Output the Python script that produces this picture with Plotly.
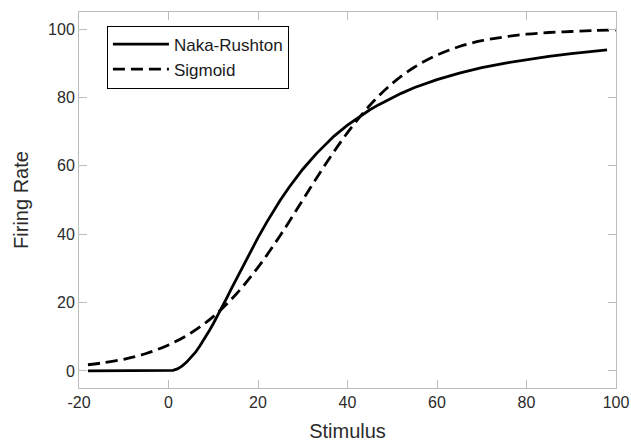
import plotly.graph_objects as go

# Values
x_nr = [-18, -10, -5, 0, 1, 2, 3, 4, 5, 6, 7, 8, 9, 10, 11, 12, 13, 14, 15, 16, 17, 18,
        19, 20, 22, 24, 25, 27, 30, 33, 35, 37, 40, 42, 45, 47, 50, 52, 55, 60, 65, 70,
        75, 80, 85, 90, 95, 98]
y_nr = [0, 0, 0, 0, 0.16, 0.6, 1.4, 2.5, 3.8, 5.4, 7.3, 9.3, 11.5, 13.8, 16.2, 18.7,
        21.3, 23.9, 26.5, 29.1, 31.6, 34.1, 36.6, 39.0, 43.6, 48.0, 50.0, 53.8, 59.0,
        63.5, 66.2, 68.7, 71.9, 73.8, 76.4, 77.9, 80.0, 81.2, 82.9, 85.2, 87.1, 88.7,
        90.0, 91.1, 92.0, 92.8, 93.5, 93.9]

x_sig = [-18, -15, -10, -5, 0, 5, 10, 15, 20, 25, 30, 35, 40, 45, 50, 55, 60, 65, 70,
         75, 80, 85, 90, 95, 100]
y_sig = [1.8, 2.3, 3.4, 5.1, 7.6, 11.1, 15.9, 22.3, 30.3, 39.7, 50.0, 60.3, 69.7, 77.7,
         84.1, 88.9, 92.4, 94.9, 96.6, 97.7, 98.5, 99.0, 99.3, 99.6, 99.7]

x_ticks = [-20, 0, 20, 40, 60, 80, 100]
x_tick_text = ["-20", "0", "20", "40", "60", "80", "100"]
y_ticks = [0, 20, 40, 60, 80, 100]

FONT = "Liberation Sans, Arial, Helvetica"
TXT = "#2b2b2b"

fig = go.Figure()
fig.add_trace(go.Scatter(x=x_nr, y=y_nr, mode="lines", name="Naka-Rushton",
                         line=dict(color="black", width=2.8)))
fig.add_trace(go.Scatter(x=x_sig, y=y_sig, mode="lines", name="Sigmoid",
                         line=dict(color="black", width=2.8, dash="12px,6px", shape="spline")))

axis_common = dict(showgrid=False, zeroline=False, showline=True, linecolor="#bdbdbd",
                   linewidth=1, mirror="ticks", ticks="inside", ticklen=8,
                   tickcolor="#bdbdbd", tickwidth=1, automargin=False,
                   tickfont=dict(family=FONT, size=16, color=TXT))

fig.update_xaxes(range=[-20, 100], tickvals=x_ticks, ticktext=x_tick_text, **axis_common,
                 title=dict(text="Stimulus", font=dict(family=FONT, size=20, color=TXT),
                            standoff=15))
fig.update_yaxes(range=[-5, 105], tickvals=y_ticks, **axis_common,
                 title=dict(text="Firing Rate", font=dict(family=FONT, size=20, color=TXT),
                            standoff=14))

fig.update_layout(
    width=631, height=442,
    margin=dict(l=79, r=15, t=12, b=54),
    plot_bgcolor="white", paper_bgcolor="white",
    legend=dict(x=0.052, y=0.964, xanchor="left", yanchor="top",
                bordercolor="black", borderwidth=1, bgcolor="white",
                font=dict(family=FONT, size=17, color="#1a1a1a"),
                tracegroupgap=0, itemwidth=56),
)

fig.write_html("out.html", config={"displayModeBar": False},
               post_script="document.body.style.margin='0px';"
                           "document.body.style.overflow='hidden';")
